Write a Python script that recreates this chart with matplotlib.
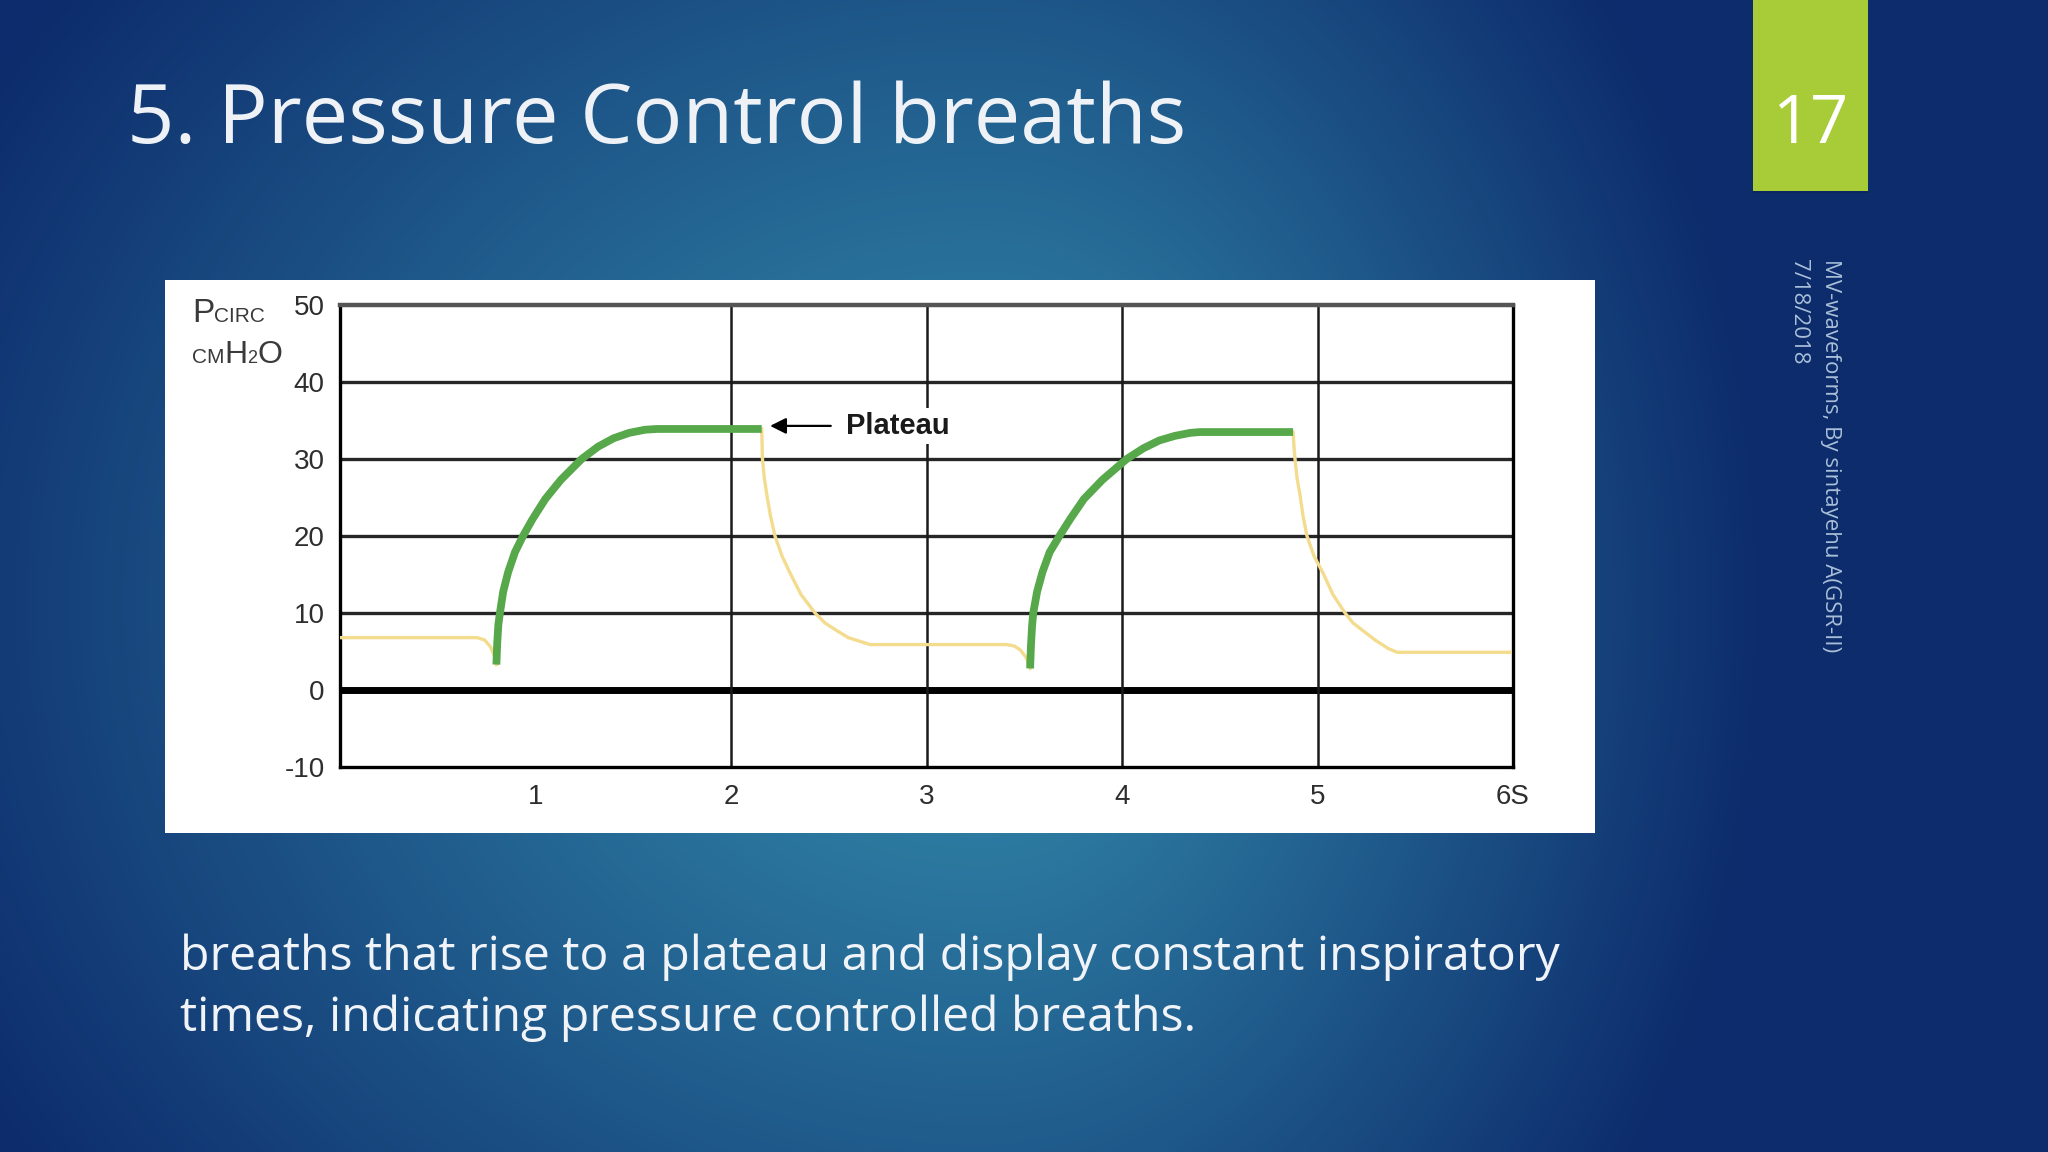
import numpy as np
import matplotlib
matplotlib.use('Agg')
import matplotlib.pyplot as plt
from matplotlib.patches import Rectangle
from matplotlib import font_manager as fm

# ---------------- data ----------------
title = "5. Pressure Control breaths"
caption_lines = ["breaths that rise to a plateau and display constant inspiratory",
                 "times, indicating pressure controlled breaths."]
slide_number = "17"
footer_text = "MV-waveforms, By sintayehu A(GSR-II)"
date_text = "7/18/2018"
annotation_text = "Plateau"

x_ticks = [1, 2, 3, 4, 5, 6]
x_tick_labels = ['1', '2', '3', '4', '5', '6S']
y_ticks = [50, 40, 30, 20, 10, 0, -10]
y_tick_labels = ['50', '40', '30', '20', '10', '0', '-10']
x_grid = [2, 3, 4, 5]
y_grid = [40, 30, 20, 10]

# expiratory (yellow) segments: time (s), pressure (cmH2O)
exp1_t = [0.00, 0.70, 0.74, 0.77, 0.79, 0.80]
exp1_p = [6.8, 6.8, 6.5, 5.6, 4.4, 3.3]
exp2_t = [2.157, 2.161, 2.170, 2.183, 2.202, 2.225, 2.261, 2.302, 2.358, 2.430,
          2.481, 2.542, 2.600, 2.711, 3.41, 3.45, 3.48, 3.51, 3.53]
exp2_p = [33.9, 30.0, 27.6, 25.4, 22.6, 20.0, 17.4, 15.2, 12.4, 10.0,
          8.7, 7.7, 6.8, 5.9, 5.9, 5.7, 5.2, 4.2, 2.8]
exp3_t = [4.875, 4.880, 4.885, 4.895, 4.910, 4.926, 4.946, 4.982, 5.028, 5.079,
          5.141, 5.182, 5.233, 5.294, 5.361, 5.407, 5.985]
exp3_p = [33.5, 31.5, 30.0, 27.6, 25.4, 22.6, 20.0, 17.4, 15.2, 12.4,
          10.0, 8.7, 7.7, 6.5, 5.4, 4.9, 4.9]

# inspiratory (green) segments: time (s), pressure (cmH2O)
insp1_t = [0.800, 0.804, 0.810, 0.818, 0.835, 0.860, 0.895, 0.936, 0.985, 1.050,
           1.130, 1.236, 1.320, 1.400, 1.480, 1.560, 1.620, 2.157]
insp1_p = [3.3, 6.0, 8.5, 10.0, 12.8, 15.3, 17.9, 20.0, 22.2, 24.8,
           27.3, 30.0, 31.6, 32.7, 33.4, 33.8, 33.9, 33.9]
insp2_t = [3.530, 3.534, 3.540, 3.546, 3.566, 3.593, 3.630, 3.680, 3.735, 3.805,
           3.900, 4.024, 4.110, 4.190, 4.270, 4.350, 4.400, 4.875]
insp2_p = [2.8, 5.6, 8.3, 10.0, 12.8, 15.3, 17.9, 20.0, 22.2, 24.8,
           27.3, 30.0, 31.4, 32.4, 33.0, 33.4, 33.5, 33.5]

# arrow of the "Plateau" annotation (tip, text anchor)
plateau_tip = (2.20, 34.3)
plateau_text_pos = (2.588, 34.3)

# ---------------- layout ----------------
W, H = 2048, 1152
fig = plt.figure(figsize=(W / 100, H / 100), dpi=100)

def fx(px):
    return px / W

def fy(py):
    return 1 - py / H

names = {f.name for f in fm.fontManager.ttflist}
chart_font = 'Liberation Sans Narrow' if 'Liberation Sans Narrow' in names else 'Liberation Sans'
slide_font = 'Open Sans'

# background (slide) axes in pixel coordinates
bg = fig.add_axes([0, 0, 1, 1])
bg.set_xlim(0, W)
bg.set_ylim(H, 0)
bg.axis('off')

yy, xx = np.mgrid[0:H:4, 0:W:4].astype(float)
cx, cy = 980.0, 600.0
rx = np.where(xx < cx, 1150.0, 780.0)
ry = 1000.0
d = np.sqrt(((xx - cx) / rx) ** 2 + ((yy - cy) / ry) ** 2)
t = np.clip(d, 0, 1) ** 1.1
c0 = np.array([0x34, 0x8e, 0xae]) / 255
c1 = np.array([0x0d, 0x2c, 0x6c]) / 255
img = c0 * (1 - t[..., None]) + c1 * t[..., None]
bg.imshow(img, extent=(0, W, H, 0), interpolation='bilinear', aspect='auto', zorder=0)

# white chart panel
bg.add_patch(Rectangle((164.6, 279.5), 1594.8 - 164.6, 833.3 - 279.5,
                       facecolor='white', edgecolor='none', zorder=1))

# slide number box
bg.add_patch(Rectangle((1753, 186), 115, 7, facecolor='#0a2250', alpha=0.45,
                       edgecolor='none', zorder=1))
bg.add_patch(Rectangle((1753, 0), 115, 191, facecolor='#a8cc38',
                       edgecolor='none', zorder=2))
bg.text(1810, 143, slide_number, fontsize=48, family=slide_font, color='white',
        ha='center', va='baseline', zorder=3)

renderer = fig.canvas.get_renderer()

# title fitted to its width in the reference
tt = bg.text(127, 143, title, fontsize=60, family=slide_font, color='#eef2f7',
             ha='left', va='baseline', zorder=3)
w = tt.get_window_extent(renderer).width
tt.set_fontsize(60 * 1059 / w)

# caption
c1t = bg.text(180, 970, caption_lines[0], fontsize=36, family=slide_font,
              color='#f0f4f8', ha='left', va='baseline', zorder=3)
w = c1t.get_window_extent(renderer).width
cs = 36 * 1383 / w
c1t.set_fontsize(cs)
bg.text(180, 1031, caption_lines[1], fontsize=cs, family=slide_font,
        color='#f0f4f8', ha='left', va='baseline', zorder=3)

# vertical footer texts
bg.text(1830, 259, footer_text, fontsize=16, family=slide_font, color='#a9bfd9',
        rotation=270, ha='center', va='top', zorder=3)
bg.text(1798, 259, date_text, fontsize=16, family=slide_font, color='#a9bfd9',
        rotation=270, ha='center', va='top', zorder=3)

# y-axis unit label "PCIRC / CMH2O" built from pieces
def chain(parts, x, y):
    for txt, size in parts:
        tx = bg.text(x, y, txt, fontsize=size, family=chart_font, color='#3a3a3a',
                     ha='left', va='baseline', zorder=3)
        bb = tx.get_window_extent(renderer)
        x = bg.transData.inverted().transform((bb.x1, bb.y0))[0]

chain([("P", 24), ("CIRC", 15)], 192, 322)
chain([("CM", 15), ("H", 23), ("2", 13), ("O", 23)], 192, 363)

# ---------------- chart ----------------
ax = fig.add_axes([fx(340), fy(767), (1513 - 340) / W, (767 - 305) / H], zorder=5)
ax.set_xlim(0, 6)
ax.set_ylim(-10, 50)
ax.patch.set_facecolor('white')

for g in y_grid:
    ax.axhline(g, color='#262626', lw=2.4, zorder=1)
ax.axhline(0, color='black', lw=5.0, zorder=1)
for g in x_grid:
    ax.axvline(g, color='#1a1a1a', lw=1.8, zorder=1)

for s in ['left', 'right', 'bottom']:
    ax.spines[s].set_color('black')
    ax.spines[s].set_linewidth(2.4)
ax.spines['top'].set_color('#555555')
ax.spines['top'].set_linewidth(3.2)

yellow = '#f4dc8f'
green = '#56a84a'
for tt_, pp_ in [(exp1_t, exp1_p), (exp2_t, exp2_p), (exp3_t, exp3_p)]:
    ax.plot(tt_, pp_, color=yellow, lw=2.4, solid_joinstyle='round', zorder=3)
for tt_, pp_ in [(insp1_t, insp1_p), (insp2_t, insp2_p)]:
    ax.plot(tt_, pp_, color=green, lw=5.6, solid_joinstyle='round',
            solid_capstyle='butt', zorder=4)

ax.annotate(annotation_text, xy=plateau_tip, xytext=plateau_text_pos,
            ha='left', va='center', fontsize=21, fontweight='bold',
            family=chart_font, color='#1a1a1a',
            bbox=dict(facecolor='white', edgecolor='none', pad=3),
            arrowprops=dict(arrowstyle='-|>', color='black', lw=1.6,
                            mutation_scale=24, shrinkA=8, shrinkB=0),
            zorder=6)

ax.set_xticks(x_ticks)
ax.set_xticklabels(x_tick_labels)
ax.set_yticks(y_ticks)
ax.set_yticklabels(y_tick_labels)
ax.tick_params(axis='both', length=0, labelsize=20, labelcolor='#2e2e2e')
ax.tick_params(axis='x', pad=12)
ax.tick_params(axis='y', pad=11)
for lab in ax.get_xticklabels() + ax.get_yticklabels():
    lab.set_fontfamily(chart_font)

fig.savefig('out.png', dpi=100)
